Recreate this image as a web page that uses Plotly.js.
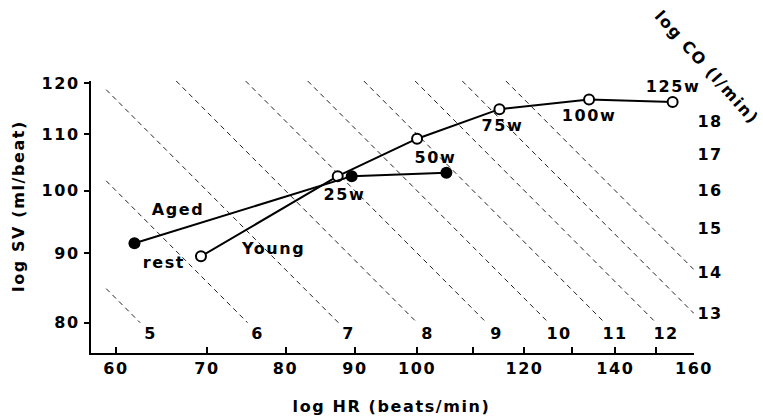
<!DOCTYPE html>
<html>
<head>
<meta charset="utf-8">
<script src="https://cdn.plot.ly/plotly-3.0.1.min.js"></script>
<style>
html,body{margin:0;padding:0;background:#fff;}
#chart{width:763px;height:417px;}
#chart text{letter-spacing:1.6px;}
</style>
</head>
<body>
<div id="chart"></div>
<script>
// ---- data ----
const youngHR = [69.3, 87.4, 100, 115, 133.9, 154.3];
const youngSV = [89.5, 102.5, 109.2, 114.8, 116.7, 116.2];
const agedHR = [61.9, 89.5, 105.1];
const agedSV = [91.5, 102.5, 103.1];
const isoCO = [5, 6, 7, 8, 9, 10, 11, 12, 13, 14];       // l/min, dashed iso-output lines
const bottomCO = [5, 6, 7, 8, 9, 10, 11, 12];             // labelled at line ends (bottom)
const rightCO = [13, 14, 15, 16, 17, 18];                 // labelled on right side
const xTickVals = [60, 70, 80, 90, 100, 110, 120, 130, 140, 150, 160];
const xTickText = ['60', '70', '80', '90', '100', '', '120', '', '140', '', '160'];
const yTickVals = [80, 90, 100, 110, 120];
const yTickText = ['80', '90', '100', '110', '120'];

const FONT = 'DejaVu Sans, Arial, sans-serif';
const BOLD = {family: FONT, size: 16, color: '#000', weight: 'bold'};

// iso-CO lines: HR*SV = CO*1000, clipped to the drawn region
const HRmin = 59, HRmax = 160, SVmin = 80, SVmax = 120.4;
const traces = [];
isoCO.forEach(co => {
  const k = co * 1000;
  const h0 = Math.max(HRmin, k / SVmax);
  const h1 = Math.min(HRmax, k / SVmin);
  traces.push({
    x: [h0, h1], y: [k / h0, k / h1], mode: 'lines', type: 'scatter',
    line: {color: '#222', width: 1, dash: '5px,4px'}, hoverinfo: 'skip', showlegend: false
  });
});
traces.push({
  x: youngHR, y: youngSV, mode: 'lines+markers', type: 'scatter', name: 'Young',
  line: {color: '#000', width: 2},
  marker: {symbol: 'circle', size: 10, color: '#fff', line: {color: '#000', width: 2}},
  showlegend: false
});
traces.push({
  x: agedHR, y: agedSV, mode: 'lines+markers', type: 'scatter', name: 'Aged',
  line: {color: '#000', width: 2},
  marker: {symbol: 'circle', size: 12, color: '#000'},
  showlegend: false
});

const L = v => Math.log10(v);
const ann = [];
bottomCO.forEach(co => {
  ann.push({x: L(co * 1000 / 78.6), y: L(78.6), xref: 'x', yref: 'y', text: String(co),
    showarrow: false, font: BOLD, xanchor: 'center', yanchor: 'middle'});
});
// right-side labels sit just outside the plot (paper x), at the height where each line meets HR=160
rightCO.forEach(co => {
  ann.push({x: 1.026, y: L(co * 1000 / 160), xref: 'paper', yref: 'y', text: String(co),
    showarrow: false, font: BOLD, xanchor: 'center', yanchor: 'middle', yshift: co === 14 ? -3 : 0});
});
// point labels (anchored to data points with pixel offsets)
const ptLab = (hr, sv, text, dx, dy) => ann.push({x: L(hr), y: L(sv), xref: 'x', yref: 'y', text: text,
  showarrow: false, font: BOLD, xanchor: 'center', yanchor: 'middle', xshift: dx, yshift: dy});
ptLab(youngHR[0], youngSV[0], 'rest', -37, -6);
ptLab(agedHR[1], agedSV[1], '25w', -7, -18);
ptLab(youngHR[2], youngSV[2], '50w', 18, -19);
ptLab(youngHR[3], youngSV[3], '75w', 3, -16);
ptLab(youngHR[4], youngSV[4], '100w', 0, -16);
ptLab(youngHR[5], youngSV[5], '125w', 0, 15);
ann.push({x: L(66.7), y: L(96.9), xref: 'x', yref: 'y', text: 'Aged', showarrow: false, font: BOLD});
ann.push({x: L(78.3), y: L(90.7), xref: 'x', yref: 'y', text: 'Young', showarrow: false, font: BOLD});
// titles
ann.push({x: 0.499, y: -0.195, xref: 'paper', yref: 'paper', text: 'log HR (beats/min)',
  showarrow: false, font: BOLD, xanchor: 'center', yanchor: 'middle'});
ann.push({x: -0.121, y: 0.54, xref: 'paper', yref: 'paper', text: 'log SV (ml/beat)', textangle: -90,
  showarrow: false, font: BOLD, xanchor: 'center', yanchor: 'middle'});
ann.push({x: 1.0216, y: 1.05, xref: 'paper', yref: 'paper', text: 'log CO (l/min)', textangle: 48,
  showarrow: false, font: BOLD, xanchor: 'center', yanchor: 'middle'});

const layout = {
  width: 763, height: 417,
  margin: {l: 91, r: 69, t: 81, b: 64, pad: 0},
  paper_bgcolor: '#fff', plot_bgcolor: '#fff',
  showlegend: false,
  font: BOLD,
  xaxis: {
    type: 'log', range: [L(57.5), L(160)], showgrid: false, zeroline: false,
    showline: true, linecolor: '#000', linewidth: 2,
    ticks: 'inside', ticklen: 6, tickwidth: 2, tickcolor: '#000',
    tickmode: 'array', tickvals: xTickVals, ticktext: xTickText,
    tickfont: BOLD, ticklabelstandoff: 0
  },
  yaxis: {
    type: 'log', range: [L(76), L(120.4)], showgrid: false, zeroline: false,
    showline: true, linecolor: '#000', linewidth: 2,
    ticks: 'outside', ticklen: 5, tickwidth: 2, tickcolor: '#000',
    tickmode: 'array', tickvals: yTickVals, ticktext: yTickText,
    tickfont: BOLD, ticklabelstandoff: 1
  },
  annotations: ann
};

Plotly.newPlot('chart', traces, layout, {staticPlot: true, displayModeBar: false});
</script>
</body>
</html>
